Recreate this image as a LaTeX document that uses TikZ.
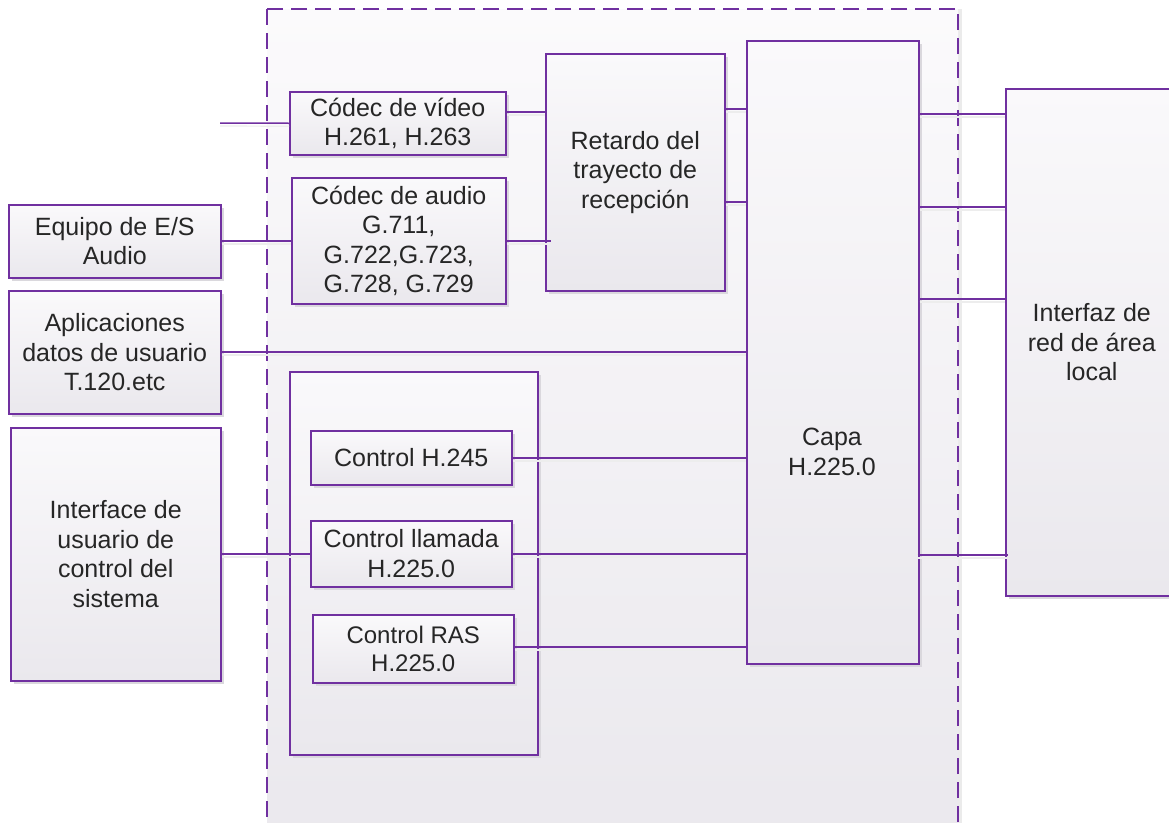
\documentclass[tikz,border=0pt]{standalone}
\usepackage{fontspec}
\setmainfont{Liberation Sans}
\usetikzlibrary{shadows,calc}
\definecolor{edge}{HTML}{7030A0}
\definecolor{txt}{HTML}{262626}
\definecolor{filltop}{HTML}{FAF9FB}
\definecolor{fillbot}{HTML}{EAE8ED}
\definecolor{shade}{HTML}{DAD8DD}
\begin{document}
\begin{tikzpicture}[x=1pt,y=-1pt,
  box/.style={draw=edge, line width=1.5pt, top color=filltop, bottom color=fillbot,
    text=txt, align=center, inner sep=2pt, anchor=north west,
    font=\fontsize{25}{29.5}\selectfont,
    drop shadow={shadow xshift=3pt, shadow yshift=-3pt, fill=shade, opacity=1}},
  plain/.style={draw=edge, line width=1.5pt, top color=filltop, bottom color=fillbot,
    inner sep=0pt, anchor=north west,
    drop shadow={shadow xshift=3pt, shadow yshift=-3pt, fill=shade, opacity=1}},
  label/.style={text=txt, align=center, font=\fontsize{25}{29.5}\selectfont},
  conn/.style={draw=edge, line width=1.5pt,
    preaction={draw=black!7, line width=1.2pt, transform canvas={yshift=-3pt}}},
]
\useasboundingbox[fill=white] (0,0) rectangle (1169,822);

% terminal boundary (dashed)
\path[draw=edge, line width=1.5pt, dash pattern=on 16pt off 8pt,
      top color=filltop!80!white, bottom color=fillbot,
      drop shadow={shadow xshift=4pt, shadow yshift=0pt, fill=black!8, opacity=1}]
  (267,9) rectangle (958,850);

% external equipment
\node[box, minimum width=212pt, minimum height=73pt]  (equipo) at (8,204)  {Equipo de E/S\\Audio};
\node[box, minimum width=212pt, minimum height=123pt] (aplic)  at (8,290)  {Aplicaciones\\datos de usuario\\T.120.etc};
\node[box, minimum width=210pt, minimum height=253pt] (iface)  at (10,427) {Interface de\\usuario de\\control del\\sistema};

% codecs and receive path delay
\node[box, minimum width=216pt, minimum height=63pt]  (video)   at (289,91)  {Códec de vídeo\\H.261, H.263};
\node[box, minimum width=214pt, minimum height=126pt] (audio)   at (291,177) {Códec de audio\\G.711,\\G.722,G.723,\\G.728, G.729};
\node[box, minimum width=179pt, minimum height=237pt] (retardo) at (545,53)  {Retardo del\\trayecto de\\recepción};

% system control group
\node[plain, minimum width=248pt, minimum height=383pt] (sysctl) at (289,371) {};
\node[box, minimum width=201pt, minimum height=54pt] (h245)    at (310,430) {Control H.245};
\node[box, minimum width=201pt, minimum height=66pt] (llamada) at (310,520) {Control llamada\\H.225.0};
\node[box, minimum width=201pt, minimum height=68pt, font=\fontsize{24}{28}\selectfont] (ras) at (312,614) {Control RAS\\H.225.0};

% H.225.0 layer and LAN interface
\node[plain, minimum width=172pt, minimum height=623pt] (capa) at (746,40) {};
\node[label] (capatxt) at (832,452) {Capa\\H.225.0};
\node[box, minimum width=172pt, minimum height=507pt] (lan) at (1005,88) {Interfaz de\\red de área\\local};

% connections
\coordinate (vidin) at (220,123);
\draw[conn] (vidin) -- (video.west);
\draw[conn] (video.east |- 0,112) -- (retardo.west |- 0,112);
\draw[conn] (equipo.east |- 0,241) -- (audio.west |- 0,241);
\draw[conn] (audio.east |- 0,241) -- ($(retardo.west |- 0,241)+(6,0)$);
\draw[conn] (retardo.east |- 0,109) -- (capa.west |- 0,109);
\draw[conn] (retardo.east |- 0,202) -- (capa.west |- 0,202);
\draw[conn] (aplic.east |- 0,352) -- (capa.west |- 0,352);
\draw[conn] (h245.east |- 0,458) -- (capa.west |- 0,458);
\draw[conn] (iface.east |- 0,554) -- (llamada.west |- 0,554);
\draw[conn] (llamada.east |- 0,554) -- (capa.west |- 0,554);
\draw[conn] (ras.east |- 0,647) -- (capa.west |- 0,647);
\draw[conn] (capa.east |- 0,114) -- (lan.west |- 0,114);
\draw[conn] (capa.east |- 0,207) -- (lan.west |- 0,207);
\draw[conn] (capa.east |- 0,299) -- (lan.west |- 0,299);
\draw[conn] ($(capa.east |- 0,555)+(-2,0)$) -- ($(lan.west |- 0,555)+(3,0)$);
\end{tikzpicture}
\end{document}
